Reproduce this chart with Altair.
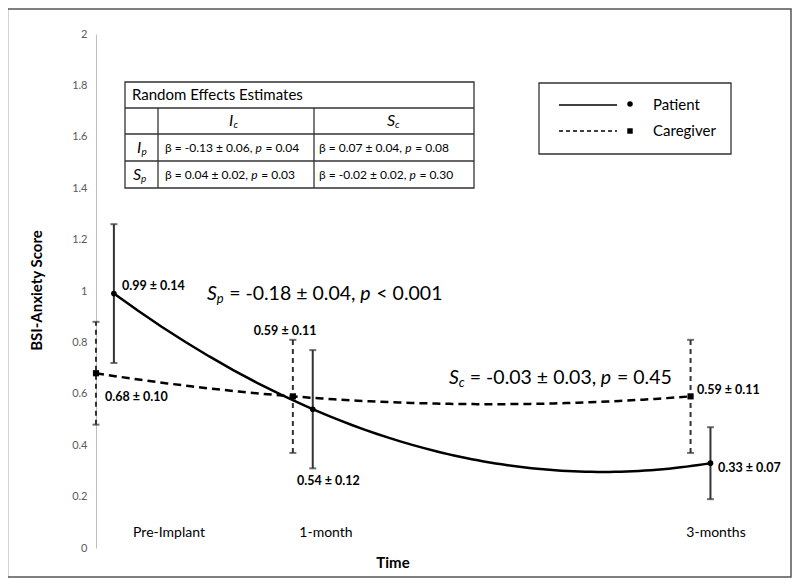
import altair as alt
import pandas as pd

# ---------------- data ----------------
time_labels = ["Pre-Implant", "1-month", "3-months"]
patient_month = [0.0, 1.0, 3.0]
caregiver_month = [-0.09, 0.9, 2.9]
patient_mean = [0.99, 0.54, 0.33]
patient_se = [0.14, 0.12, 0.07]
patient_low = [0.72, 0.31, 0.19]
patient_high = [1.26, 0.77, 0.47]
caregiver_mean = [0.68, 0.59, 0.59]
caregiver_se = [0.10, 0.11, 0.11]
caregiver_low = [0.48, 0.37, 0.37]
caregiver_high = [0.88, 0.81, 0.81]
y_ticks = [0, 0.2, 0.4, 0.6, 0.8, 1, 1.2, 1.4, 1.6, 1.8, 2]

slope_patient = ("-0.18", "0.04", "< 0.001")
slope_caregiver = ("-0.03", "0.03", "= 0.45")

re_title = "Random Effects Estimates"
re_cells = [
    [("-0.13", "0.06", "0.04"), ("0.07", "0.04", "0.08")],
    [("0.04", "0.02", "0.03"), ("-0.02", "0.02", "0.30")],
]

# ---------------- layout ----------------
W, H = 694, 514
PAD = {"left": 88, "top": 26, "right": 2, "bottom": 30}
XMIN, XMAX = -0.09, 3.4
YMIN, YMAX = 0.0, 2.0
PXM = W / (XMAX - XMIN)
PYV = H / (YMAX - YMIN)
OX, OY = 8 + PAD["left"], 8 + PAD["top"]
FONT = "Lato"


def mx(px):
    return XMIN + (px - OX) / PXM


def vy(py):
    return YMAX - (py - OY) / PYV


CW = {" ": 0.26, ".": 0.23, ",": 0.23, "-": 0.35, "=": 0.58, "<": 0.58,
      "±": 0.58, "β": 0.56, "p": 0.565, "S": 0.5, "c": 0.46, "I": 0.28}


def tw(s, size):
    return sum(CW.get(ch, 0.58 if ch.isdigit() else 0.52) for ch in s) * size


X = alt.X("m:Q", scale=alt.Scale(domain=[XMIN, XMAX], nice=False, zero=False), axis=None)
yaxis = alt.Axis(values=y_ticks, format="~g", domainColor="#bfbfbf", domainWidth=1,
                 ticks=False, grid=False, labelColor="#595959", labelFont=FONT,
                 labelFontSize=11, labelPadding=9, titleFont=FONT, titleFontSize=15,
                 titleFontWeight="bold", titleColor="black", titleAngle=-90,
                 titleX=-60, titleY=256, titleAlign="center", titleBaseline="middle")


def Y(field="v"):
    return alt.Y(f"{field}:Q", scale=alt.Scale(domain=[YMIN, YMAX], nice=False, zero=False),
                 axis=yaxis, title="BSI-Anxiety Score")


# ---------------- series ----------------
pat = pd.DataFrame({"m": patient_month, "v": patient_mean, "lo": patient_low, "hi": patient_high})
car = pd.DataFrame({"m": caregiver_month, "v": caregiver_mean, "lo": caregiver_low, "hi": caregiver_high})
pat_caps = pd.DataFrame({"m": patient_month * 2, "v": patient_low + patient_high})
car_caps = pd.DataFrame({"m": caregiver_month * 2, "v": caregiver_low + caregiver_high})

layers = []
layers.append(alt.Chart(car).mark_rule(color="#333", strokeWidth=2, strokeDash=[5, 4]).encode(x=X, y=Y("lo"), y2="hi:Q"))
layers.append(alt.Chart(car_caps).mark_tick(orient="horizontal", color="#333", size=7, thickness=2).encode(x=X, y=Y()))
layers.append(alt.Chart(pat).mark_rule(color="#333", strokeWidth=2).encode(x=X, y=Y("lo"), y2="hi:Q"))
layers.append(alt.Chart(pat_caps).mark_tick(orient="horizontal", color="#333", size=7, thickness=2).encode(x=X, y=Y()))
# smoothed trend (quadratic through the three time points, as in the spreadsheet's smoothed line)
layers.append(alt.Chart(car).transform_regression("m", "v", method="poly", order=2).mark_line(
    color="black", strokeWidth=2.5, strokeDash=[8, 5]).encode(x=X, y=Y()))
layers.append(alt.Chart(pat).transform_regression("m", "v", method="poly", order=2).mark_line(
    color="black", strokeWidth=2.5).encode(x=X, y=Y()))
layers.append(alt.Chart(pat).mark_point(shape="circle", filled=True, size=32, color="black", opacity=1).encode(x=X, y=Y()))
layers.append(alt.Chart(car).mark_point(shape="square", filled=True, size=38, color="black", opacity=1).encode(x=X, y=Y()))

# ---------------- table & legend frames ----------------
tab_x = [125, 158, 314, 474]
tab_y = [82, 108, 134, 161, 188]
leg_x = [539, 731]
leg_y = [83, 154]

boxes = pd.DataFrame({"m": [mx(tab_x[0]), mx(leg_x[0])], "m2": [mx(tab_x[3]), mx(leg_x[1])],
                      "v": [vy(tab_y[0]), vy(leg_y[0])], "v2": [vy(tab_y[4]), vy(leg_y[1])]})
layers.append(alt.Chart(boxes).mark_rect(fill="white", stroke="#333", strokeWidth=1.3).encode(
    x=X, x2="m2:Q", y=Y(), y2="v2:Q"))

grid_rows = []
for yy in tab_y[1:4]:
    grid_rows.append({"m": mx(tab_x[0]), "m2": mx(tab_x[3]), "v": vy(yy), "v2": vy(yy)})
for xx in tab_x[1:3]:
    grid_rows.append({"m": mx(xx), "m2": mx(xx), "v": vy(tab_y[1]), "v2": vy(tab_y[4])})
layers.append(alt.Chart(pd.DataFrame(grid_rows)).mark_rule(color="#333", strokeWidth=1.3).encode(
    x=X, x2="m2:Q", y=Y(), y2="v2:Q"))

# legend samples
leg_lines = pd.DataFrame({"m": [mx(559)], "m2": [mx(617)], "v": [vy(105)]})
leg_lines2 = pd.DataFrame({"m": [mx(559)], "m2": [mx(617)], "v": [vy(131)]})
layers.append(alt.Chart(leg_lines).mark_rule(color="black", strokeWidth=1.5).encode(x=X, x2="m2:Q", y=Y()))
layers.append(alt.Chart(leg_lines2).mark_rule(color="black", strokeWidth=1.5, strokeDash=[4, 3]).encode(x=X, x2="m2:Q", y=Y()))
layers.append(alt.Chart(pd.DataFrame({"m": [mx(630)], "v": [vy(104)]})).mark_point(
    shape="circle", filled=True, size=30, color="black", opacity=1).encode(x=X, y=Y()))
layers.append(alt.Chart(pd.DataFrame({"m": [mx(630)], "v": [vy(131)]})).mark_point(
    shape="square", filled=True, size=30, color="black", opacity=1).encode(x=X, y=Y()))

# ---------------- texts ----------------
texts = []


def add(px, py, text, size, style="normal", weight="normal", align="left"):
    lead = len(text) - len(text.lstrip(" "))
    px = px + (tw(" " * lead, size) if align == "left" else 0)
    texts.append({"m": mx(px), "v": vy(py), "text": text.strip(" "), "size": size,
                  "style": style, "weight": weight, "align": align})


def rich(px, py, parts):
    x = px
    for text, size, style, dy in parts:
        add(x, py + dy, text, size, style)
        x += tw(text, size)


# category labels and x title
for lab, cx in zip(time_labels, [169, 326, 716]):
    add(cx, 533, lab, 14, align="center")
add(393, 563, "Time", 15, weight="bold", align="center")

# point labels
lbl = lambda a, b: f"{a:.2f} ± {b:.2f}"
add(122, 286, lbl(patient_mean[0], patient_se[0]), 12.5, weight="bold")
add(297, 481, lbl(patient_mean[1], patient_se[1]), 12.5, weight="bold")
add(718, 468, lbl(patient_mean[2], patient_se[2]), 12.5, weight="bold")
add(105, 397, lbl(caregiver_mean[0], caregiver_se[0]), 12.5, weight="bold")
add(285, 331, lbl(caregiver_mean[1], caregiver_se[1]), 12.5, weight="bold", align="center")
add(697, 390, lbl(caregiver_mean[2], caregiver_se[2]), 12.5, weight="bold")

# slope annotations
rich(207, 294, [("S", 19.5, "italic", 0), ("p", 13, "italic", 5),
                (f" = {slope_patient[0]} ± {slope_patient[1]}, ", 19.5, "normal", 0),
                ("p", 19.5, "italic", 0), (f" {slope_patient[2]}", 19.5, "normal", 0)])
rich(449, 378, [("S", 19.5, "italic", 0), ("c", 13, "italic", 5),
                (f" = {slope_caregiver[0]} ± {slope_caregiver[1]}, ", 19.5, "normal", 0),
                ("p", 19.5, "italic", 0), (f" {slope_caregiver[2]}", 19.5, "normal", 0)])

# table text
add(132, 95, re_title, 15)
rich(229, 121, [("I", 16, "italic", 0), ("c", 10, "italic", 4)])
rich(387, 121, [("S", 16, "italic", 0), ("c", 10, "italic", 4)])
row_mid = [(tab_y[2] + tab_y[3]) / 2, (tab_y[3] + tab_y[4]) / 2]
rich(137, row_mid[0], [("I", 16, "italic", 0), ("p", 10, "italic", 4)])
rich(133, row_mid[1], [("S", 16, "italic", 0), ("p", 10, "italic", 4)])
for r, row in enumerate(re_cells):
    for c, (b, s, p) in enumerate(row):
        rich([165, 319][c], row_mid[r], [(f"β = {b} ± {s}, ", 12, "normal", 0),
                                         ("p", 12, "italic", 0), (f" = {p}", 12, "normal", 0)])

# legend text
add(653, 105, "Patient", 15)
add(653, 131, "Caregiver", 15)

tdf = pd.DataFrame(texts)
for (style, weight, align), g in tdf.groupby(["style", "weight", "align"]):
    layers.append(alt.Chart(g).mark_text(font=FONT, fontStyle=style, fontWeight=weight, align=align,
                                         baseline="middle", color="black").encode(
        x=X, y=Y(), text="text:N", size=alt.Size("size:Q", scale=None)))

# outer frame
layers.append(alt.Chart(pd.DataFrame({"a": [0]})).mark_rect(fillOpacity=0, stroke="#555", strokeWidth=1.5).encode(
    x=alt.value(-88.5), x2=alt.value(695), y=alt.value(-25), y2=alt.value(543)))

chart = alt.layer(*layers).properties(
    width=W, height=H, padding=PAD, autosize=alt.AutoSizeParams(type="none"), background="white"
).configure_view(stroke=None)

chart.save("out.html", embed_options={"renderer": "svg", "actions": False})
